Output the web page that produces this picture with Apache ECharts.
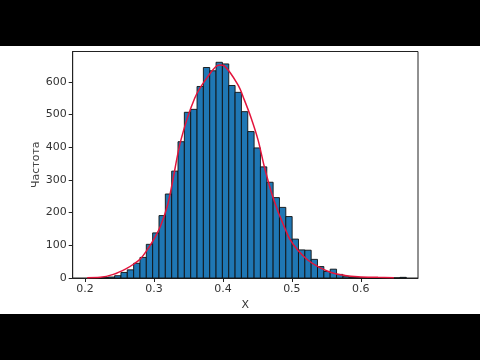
<!DOCTYPE html>
<html>
<head>
<meta charset="utf-8">
<script src="https://cdn.jsdelivr.net/npm/echarts@6/dist/echarts.min.js"></script>
<style>
html,body{margin:0;padding:0;background:#fff;}
#c{width:480px;height:360px;}
</style>
</head>
<body>
<div id="c"></div>
<script>
// Histogram: 50 bins
const binStart = 0.206;
const binWidth = 0.0092;
const counts = [
  1, 0, 1, 3, 7, 17, 25, 45, 63, 103,
  138, 191, 257, 327, 417, 507, 516, 586, 644, 634,
  660, 655, 589, 568, 509, 448, 398, 340, 293, 246,
  216, 188, 119, 86, 85, 57, 35, 20, 27, 11,
  4, 2, 1, 1, 0, 0, 0, 0, 0, 2
];
// Fitted density curve
const curveX = [0.203, 0.222, 0.241, 0.261, 0.270, 0.280, 0.290, 0.299, 0.309, 0.319,
  0.326, 0.339, 0.359, 0.378, 0.395, 0.402, 0.422, 0.431, 0.441, 0.451,
  0.460, 0.470, 0.480, 0.489, 0.497, 0.509, 0.523, 0.538, 0.557, 0.577,
  0.596, 0.625, 0.648];
const curveY = [1, 2, 11, 30, 42, 58, 86, 116, 157, 218,
  285, 422, 550, 616, 652, 649, 590, 545, 489, 422,
  341, 264, 203, 157, 119, 84, 55, 35, 17, 8,
  4, 2, 1];
const xTicks = [0.2, 0.3, 0.4, 0.5, 0.6];
const yTicks = [0, 100, 200, 300, 400, 500, 600];

const histData = counts.map((c, i) => [binStart + i * binWidth, binStart + (i + 1) * binWidth, c]);
const curveData = curveX.map((x, i) => [x, curveY[i]]);

const chart = echarts.init(document.getElementById('c'), null, {renderer: 'canvas'});
const labelStyle = {color: '#333', fontSize: 11, fontFamily: 'DejaVu Sans'};
chart.setOption({
  backgroundColor: '#fff',
  animation: false,
  grid: {left: 72.7, right: 62, top: 51.5, bottom: 82, show: true, borderColor: '#222', borderWidth: 1, backgroundColor: 'transparent'},
  xAxis: {
    type: 'value', min: 0.182, max: 0.683,
    name: 'X', nameLocation: 'middle', nameGap: 22, nameMoveOverlap: false,
    nameTextStyle: {color: '#333', fontSize: 11, fontFamily: 'DejaVu Sans'},
    axisLine: {show: true, onZero: false, lineStyle: {color: '#222', width: 1}},
    axisTick: {show: true, length: 4, lineStyle: {color: '#222'}, customValues: xTicks},
    axisLabel: Object.assign({customValues: xTicks, margin: 6, formatter: v => v.toFixed(1)}, labelStyle),
    splitLine: {show: false}
  },
  yAxis: {
    type: 'value', min: 0, max: 693,
    name: 'Частота', nameLocation: 'middle', nameGap: 31, nameRotate: 90, nameMoveOverlap: false,
    nameTextStyle: {color: '#444', fontSize: 11, fontFamily: 'DejaVu Sans'},
    axisLine: {show: true, lineStyle: {color: '#222', width: 1}},
    axisTick: {show: true, length: 4, lineStyle: {color: '#222'}, customValues: yTicks},
    axisLabel: Object.assign({customValues: yTicks, margin: 6}, labelStyle),
    splitLine: {show: false}
  },
  graphic: [
    {type: 'rect', left: 0, top: 0, shape: {width: 480, height: 46}, style: {fill: '#000'}, z: 100},
    {type: 'rect', left: 0, top: 314, shape: {width: 480, height: 46}, style: {fill: '#000'}, z: 100}
  ],
  series: [
    {
      type: 'custom',
      data: histData,
      encode: {x: [0, 1], y: 2},
      renderItem: function (params, api) {
        const p0 = api.coord([api.value(0), api.value(2)]);
        const p1 = api.coord([api.value(1), 0]);
        return {
          type: 'rect',
          shape: {x: p0[0], y: p0[1], width: p1[0] - p0[0], height: p1[1] - p0[1]},
          style: {fill: '#1f77b4', stroke: '#111', lineWidth: 0.9}
        };
      },
      z: 2
    },
    {
      type: 'line',
      data: curveData,
      smooth: 0.35,
      showSymbol: false,
      lineStyle: {color: '#e3143c', width: 1.5},
      z: 3
    }
  ]
});
</script>
</body>
</html>
